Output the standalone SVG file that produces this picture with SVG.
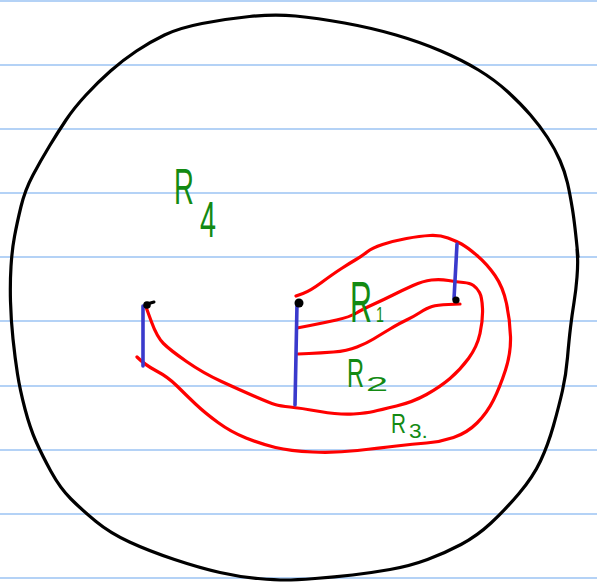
<svg xmlns="http://www.w3.org/2000/svg" width="597" height="585" viewBox="0 0 597 585">
<style>
.rule{stroke:#6aa6ee;stroke-width:1.2}
.blk{fill:none;stroke:#000;stroke-width:3.2;stroke-linecap:round;stroke-linejoin:round}
.red{fill:none;stroke:#f00;stroke-width:3.2;stroke-linecap:round;stroke-linejoin:round}
.blu{fill:none;stroke:#3a3acc;stroke-width:3.6;stroke-linecap:round}
.lbl{fill:#138a13;font-family:"Liberation Sans",Arial,sans-serif}
</style>
<rect width="597" height="585" fill="#fff"/>
<g id="rules">
<line class="rule" x1="0" y1="1" x2="597" y2="1"/>
<line class="rule" x1="0" y1="65" x2="597" y2="65"/>
<line class="rule" x1="0" y1="129" x2="597" y2="129"/>
<line class="rule" x1="0" y1="193" x2="597" y2="193"/>
<line class="rule" x1="0" y1="257" x2="597" y2="257"/>
<line class="rule" x1="0" y1="321" x2="597" y2="321"/>
<line class="rule" x1="0" y1="386" x2="597" y2="386"/>
<line class="rule" x1="0" y1="450" x2="597" y2="450"/>
<line class="rule" x1="0" y1="514" x2="597" y2="514"/>
<line class="rule" x1="0" y1="578" x2="597" y2="578"/>
</g>
<g id="outer-boundary">
<path class="blk" d="M577,249 L577.5,256.5 Q578,264 577,277 Q576,290 574,302.5 Q572,315 570.5,327.5 Q569,340 567.5,357.5 Q566,375 562.5,390.5 Q559,406 553.5,425.5 Q548,445 540.5,461 Q533,477 519,493.5 Q505,510 491,523 Q477,536 461,544.5 Q445,553 427.5,559.5 Q410,566 390,569.5 Q370,573 352.5,575 Q335,577 315,578.5 Q295,580 285.5,580 Q276,580 258,578.5 Q240,577 220,572.5 Q200,568 174.5,559.5 Q149,551 129.5,542 Q110,533 96,521.5 Q82,510 71,499 Q60,488 51,471.5 Q42,455 36,441.5 Q30,428 25,409 Q20,390 17.5,374 Q15,358 13,339 Q11,320 10.5,301.5 Q10,283 11,266.5 Q12,250 14.5,236.5 Q17,223 21,206.5 Q25,190 33,175 Q41,160 49.5,146 Q58,132 66,120 Q74,108 86,95 Q98,82 110.5,71 Q123,60 136.5,51 Q150,42 164.5,35 Q179,28 202,23.5 Q225,19 249.5,16.5 Q274,14 295.5,16 Q317,18 344.5,23 Q372,28 396,35 Q420,42 441,51 Q462,60 478.5,70 Q495,80 508,92 Q521,104 530.5,115 Q540,126 547.5,137.5 Q555,149 560,160.5 Q565,172 567.5,183 Q570,194 572.5,209.5 Q575,225 578,257"/>
</g>
<g id="curves">
<path class="red" d="M296,296 L303,293.5 Q310,291 321.5,282.5 Q333,274 341.5,268.5 Q350,263 356,259.5 Q362,256 367,252 Q372,248 382.5,244.5 Q393,241 406.5,238.5 Q420,236 430,235.5 Q440,235 448,238 Q456,241 461.5,244 Q467,247 477,255.5 Q487,264 495,275.5 Q503,287 506.5,303.5 Q510,320 510.5,336.5 Q511,353 505.5,370 Q500,387 493.5,400 Q487,413 477,423 Q467,433 453.5,437.5 Q440,442 426.5,443 Q413,444 396.5,446 Q380,448 357.5,450.5 Q335,453 312.5,452 Q290,451 275.5,447.5 Q261,444 246,438 Q231,432 218,422.5 Q205,413 195.5,404 Q186,395 177,386 Q168,377 156.5,371 Q145,365 137,357"/>
<path class="red" d="M297,328 L310,325.5 Q323,323 336.5,320 Q350,317 356.5,313 Q363,309 373,304.5 Q383,300 393,295 Q403,290 413,285.5 Q423,281 431.5,280 Q440,279 448.5,280.5 Q457,282 463.5,282.5 Q470,283 473.5,285.5 Q477,288 479.5,292.5 Q482,297 482.5,308.5 Q483,320 480,333.5 Q477,347 468.5,358.5 Q460,370 450,378.5 Q440,387 426.5,394.5 Q413,402 396.5,406 Q380,410 373.5,411.5 Q367,413 353.5,414 Q340,415 320,411.5 Q300,408 290,407 Q280,406 275,404.5 Q270,403 255,396.5 Q240,390 221.5,381.5 Q203,373 186.5,361.5 Q170,350 163.5,343.5 Q157,337 151.5,322 L146,307"/>
<path class="red" d="M298,354 L309,353.5 Q320,353 333.5,352 Q347,351 357,347 Q367,343 373.5,339 Q380,335 390,329 Q400,323 406.5,320 Q413,317 420,312.5 Q427,308 432,306.5 Q437,305 448.5,304.5 L460,304"/>
</g>
<g id="cuts">
<path class="blu" d="M143,306 L143,366"/>
<path class="blu" d="M297,304 L295,405"/>
<path class="blu" d="M457,244 L454,299"/>
</g>
<g id="points">
<circle cx="147" cy="305" r="3.8" fill="#000"/>
<path d="M147,304 L154,302" stroke="#000" stroke-width="3" stroke-linecap="round"/>
<circle cx="299" cy="303" r="4.5" fill="#000"/>
<circle cx="456" cy="300" r="3.6" fill="#000"/>
</g>
<g id="R4">
<text class="lbl" font-size="50" transform="translate(174,204) scale(0.55,1)">R</text>
<text class="lbl" font-size="50" transform="translate(200,237) scale(0.575,1)">4</text>
</g>
<g id="R1">
<text class="lbl" font-size="58" transform="translate(350,322) scale(0.525,1)">R</text>
<text class="lbl" font-size="22" transform="translate(376,322) scale(0.65,1)">1</text>
</g>
<g id="R2">
<text class="lbl" font-size="40" transform="translate(347,387) scale(0.59,1)">R</text>
<text class="lbl" font-size="20" transform="translate(366,391) scale(1.98,1)">2</text>
</g>
<g id="R3">
<text class="lbl" font-size="28" transform="translate(391,433) scale(0.74,1)">R</text>
<text class="lbl" font-size="21" transform="translate(409,438) scale(1.08,1)">3.</text>
</g>
</svg>
